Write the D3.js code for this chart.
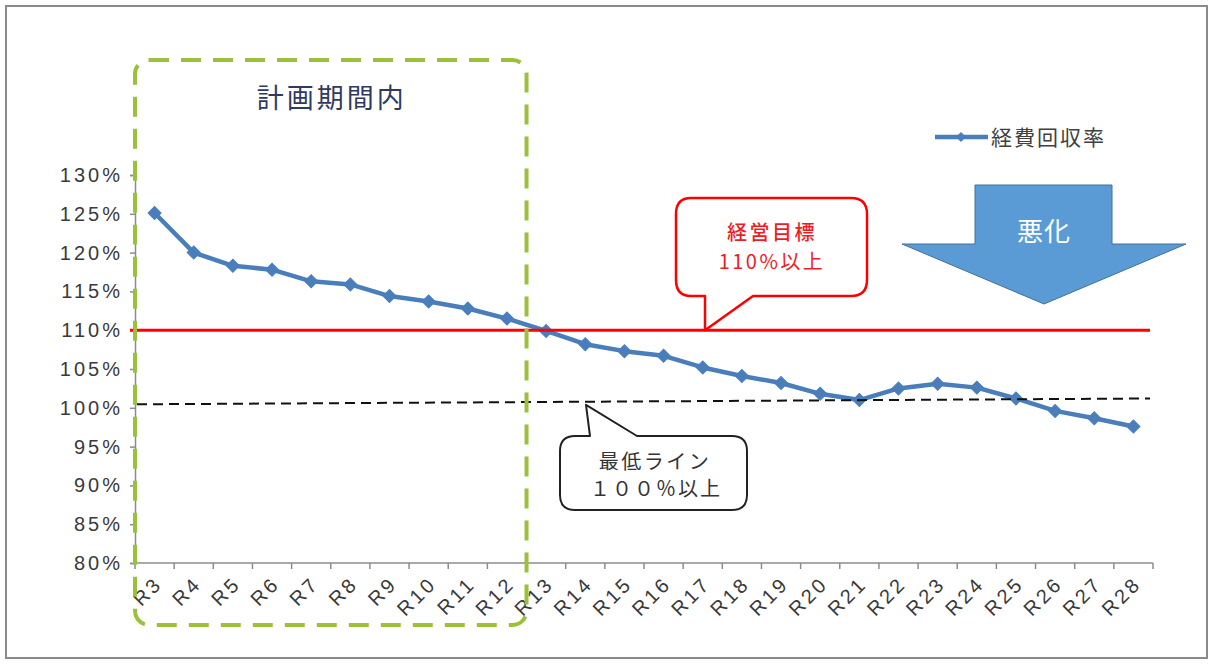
<!DOCTYPE html>
<html>
<head>
<meta charset="utf-8">
<script src="https://cdn.jsdelivr.net/npm/d3@7"></script>
<style>
  html, body { margin: 0; padding: 0; background: #fff; }
  svg { display: block; }
  .latin { font-family: "Liberation Sans", Arial, sans-serif; }
  .jp { font-family: "Noto Sans CJK JP", sans-serif; }
</style>
</head>
<body>
<svg id="chart" width="1210" height="664"></svg>
<script>
// 年度ラベル
const categories = ["R3","R4","R5","R6","R7","R8","R9","R10","R11","R12","R13","R14","R15",
  "R16","R17","R18","R19","R20","R21","R22","R23","R24","R25","R26","R27","R28"];
// 経費回収率 (%)
const recoveryRate = [125.1,120.0,118.3,117.8,116.3,115.9,114.4,113.7,112.8,111.5,109.9,108.2,107.3,
  106.7,105.2,104.1,103.2,101.8,101.0,102.5,103.1,102.6,101.2,99.6,98.65,97.6];
// 縦軸目盛
const yTicks = [80,85,90,95,100,105,110,115,120,125,130];
// 経営目標ライン (%)
const targetLine = 110;
// 最低ライン (左端, 右端) (%)
const minimumLine = [100.45, 101.2];
// 計画期間の範囲
const planPeriod = ["R3","R12"];

const svg = d3.select("#chart");

// 外枠
svg.append("rect").attr("x",6).attr("y",6).attr("width",1201).attr("height",652)
  .attr("fill","#fff").attr("stroke","#8a8a8a").attr("stroke-width",2);

const x = d3.scaleBand().domain(categories).range([135,1153]).padding(0);
const y = d3.scaleLinear().domain([80,130]).range([563,175]);

// 縦軸
const yAxis = svg.append("g").attr("transform","translate(135,0)")
  .call(d3.axisLeft(y).tickValues(yTicks).tickSize(5).tickPadding(7).tickFormat(d => d + "%"));
yAxis.select(".domain").attr("stroke","#8c8c8c").attr("stroke-width",1.5);
yAxis.selectAll(".tick line").attr("stroke","#8c8c8c").attr("stroke-width",1.5);
yAxis.selectAll(".tick text").attr("class","latin").attr("font-size",20)
  .attr("letter-spacing","3px").attr("fill","#3a3a3a");

// 横軸
const xAxisG = svg.append("g");
xAxisG.append("line").attr("x1",x.range()[0]).attr("x2",x.range()[1])
  .attr("y1",y(80)).attr("y2",y(80)).attr("stroke","#8c8c8c").attr("stroke-width",1.5);
const boundaries = categories.map(c => x(c)).concat([x.range()[1]]);
xAxisG.selectAll("line.tk").data(boundaries).join("line").attr("class","tk")
  .attr("x1",d => d).attr("x2",d => d).attr("y1",y(80)).attr("y2",y(80)+6)
  .attr("stroke","#8c8c8c").attr("stroke-width",1.5);
xAxisG.selectAll("text").data(categories).join("text")
  .attr("class","latin").attr("font-size",20).attr("letter-spacing","3px")
  .attr("fill","#3a3a3a").attr("text-anchor","end")
  .attr("transform",d => `translate(${x(d)+x.bandwidth()/2+9},${y(80)+22}) rotate(-45)`)
  .text(d => d);

// 経費回収率の折れ線
const lineColor = "#4a7ebb";
const pts = categories.map((c,i) => [x(c)+x.bandwidth()/2, y(recoveryRate[i])]);
svg.append("path").datum(pts).attr("d",d3.line())
  .attr("fill","none").attr("stroke",lineColor).attr("stroke-width",4.5)
  .attr("stroke-linejoin","round");
const diamond = d3.symbol().type(d3.symbolSquare).size(85);
svg.selectAll("path.mk").data(pts).join("path").attr("class","mk")
  .attr("d",diamond).attr("transform",d => `translate(${d[0]},${d[1]}) rotate(45)`)
  .attr("fill",lineColor).attr("stroke",lineColor).attr("stroke-width",1);

// 凡例
const lg = svg.append("g");
lg.append("line").attr("x1",935).attr("x2",988).attr("y1",137).attr("y2",137)
  .attr("stroke",lineColor).attr("stroke-width",4.5);
lg.append("path").attr("d",d3.symbol().type(d3.symbolSquare).size(50))
  .attr("transform","translate(961,137) rotate(45)").attr("fill",lineColor);
lg.append("text").attr("class","jp").attr("x",991).attr("y",145)
  .attr("font-size",21).attr("letter-spacing","2px").attr("fill","#404040").text("経費回収率");

// 経営目標ライン
svg.append("line").attr("x1",130).attr("x2",1150)
  .attr("y1",y(targetLine)).attr("y2",y(targetLine))
  .attr("stroke","#ff0000").attr("stroke-width",3);

// 最低ライン
svg.append("line").attr("x1",137).attr("x2",1150)
  .attr("y1",y(minimumLine[0])).attr("y2",y(minimumLine[1]))
  .attr("stroke","#111").attr("stroke-width",2).attr("stroke-dasharray","10,6");

// 計画期間の枠
const px0 = x(planPeriod[0]), px1 = x(planPeriod[1]) + x.bandwidth();
svg.append("rect").attr("x",px0).attr("y",60).attr("width",px1-px0).attr("height",565)
  .attr("rx",14).attr("ry",14).attr("fill","none")
  .attr("stroke","#9cc03a").attr("stroke-width",4).attr("stroke-dasharray","20,12");
svg.append("text").attr("class","jp").attr("x",(px0+px1)/2+1).attr("y",108)
  .attr("text-anchor","middle").attr("font-size",27).attr("letter-spacing","3px")
  .attr("fill","#2f3a5e").text("計画期間内");

// 吹き出し（経営目標）
const tY = y(targetLine);
const redBubble = `M691,198 H851 Q867,198 867,214 V280 Q867,296 851,296 H753 L705,${tY} V296 H691 Q676,296 676,280 V214 Q676,198 691,198 Z`;
svg.append("path").attr("d",redBubble).attr("fill","#fff").attr("stroke","#ff0000")
  .attr("stroke-width",2.5).attr("stroke-linejoin","round");
svg.append("text").attr("class","jp").attr("x",772).attr("y",240).attr("text-anchor","middle")
  .attr("font-size",20).attr("letter-spacing","2.5px").attr("font-weight",500)
  .attr("fill","#ee1c25").text("経営目標");
svg.append("text").attr("class","jp").attr("x",772).attr("y",269).attr("text-anchor","middle")
  .attr("font-size",20).attr("letter-spacing","2.5px")
  .attr("fill","#ee1c25").text("110%以上");

// 吹き出し（最低ライン）
const mY = y(minimumLine[0]) + 0.5;
const blkBubble = `M575,436 H590 L586,${mY} L637,436 H732 Q747,436 747,451 V495 Q747,510 732,510 H575 Q560,510 560,495 V451 Q560,436 575,436 Z`;
svg.append("path").attr("d",blkBubble).attr("fill","#fff").attr("stroke","#222")
  .attr("stroke-width",2).attr("stroke-linejoin","round");
svg.append("text").attr("class","jp").attr("x",655).attr("y",469).attr("text-anchor","middle")
  .attr("font-size",20).attr("letter-spacing","2.5px").attr("fill","#333").text("最低ライン");
svg.append("text").attr("class","jp").attr("x",656).attr("y",496).attr("text-anchor","middle")
  .attr("font-size",20).attr("letter-spacing","2px").attr("fill","#333").text("１００％以上");

// 悪化の矢印
svg.append("path")
  .attr("d","M975,185 H1112 V244 H1186 L1044,304 L902,244 H975 Z")
  .attr("fill","#5b9bd5").attr("stroke","#41719c").attr("stroke-width",1);
svg.append("text").attr("class","jp").attr("x",1044).attr("y",241).attr("text-anchor","middle")
  .attr("font-size",26).attr("letter-spacing","1px").attr("fill","#fff").text("悪化");
</script>
</body>
</html>
